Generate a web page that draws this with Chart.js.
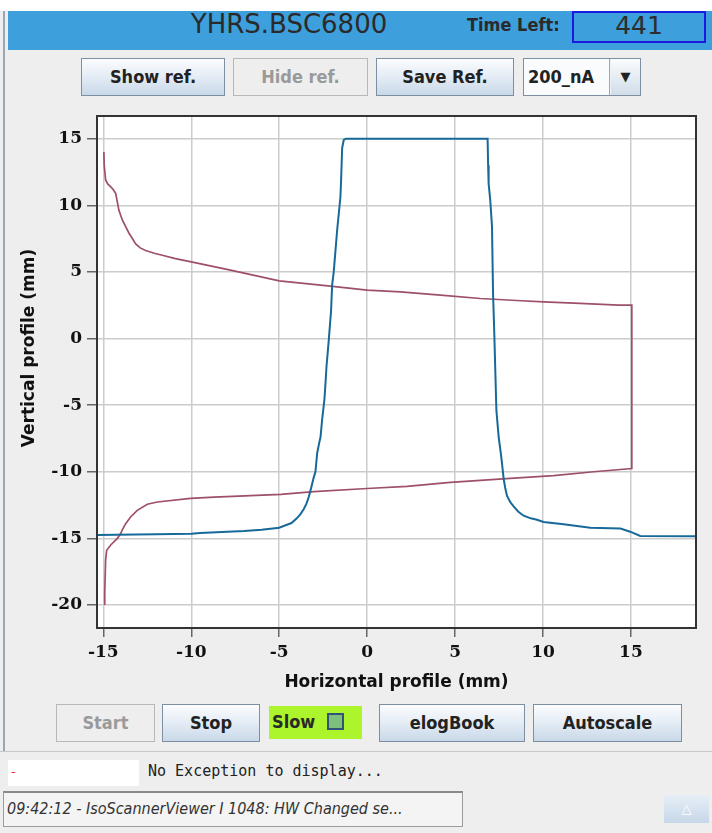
<!DOCTYPE html>
<html><head><meta charset="utf-8">
<script src="https://cdn.jsdelivr.net/npm/chart.js@4.4.1/dist/chart.umd.min.js"></script>
<style>
html,body{margin:0;padding:0;}
body{width:712px;height:833px;background:#eeeeee;position:relative;overflow:hidden;font-family:"DejaVu Sans",sans-serif;}
.abs{position:absolute;box-sizing:border-box;}
.topwhite{left:0;top:0;width:712px;height:11px;background:#fff;}
.vline{left:3px;top:11px;width:2px;height:740px;background:#9aa6b2;}
.bar{left:8px;top:11px;width:704px;height:39px;background:#3d9fdb;}
.title{left:8px;top:9px;width:562px;height:30px;text-align:center;font-size:26px;color:#2a2a2a;line-height:30px;}
.tl{left:467px;top:14px;font-family:"DejaVu Sans Condensed","DejaVu Sans",sans-serif;font-weight:bold;font-size:18px;color:#2a2a2a;}
.tbox{left:572px;top:11px;width:134px;height:32px;border:2px solid #1a1ae0;text-align:center;font-size:25px;line-height:26px;color:#2d2d2d;}
.btn{height:38px;border:1px solid #7d8fa3;background:linear-gradient(#fbfcfe,#e4ecf5 50%,#c9d8e8);text-align:center;font-family:"DejaVu Sans Condensed","DejaVu Sans",sans-serif;font-weight:bold;font-size:18px;line-height:36px;color:#222;}
.dis{border:1px solid #b8b8b8;background:#eeeeee;color:#9a9a9a;}
.combo{left:523px;top:58px;width:118px;height:38px;border:1px solid #7d8fa3;background:#eef2f7;}
.combotext{left:524px;top:59px;width:86px;height:36px;background:#fafbfd;border-right:1px solid #9aa8b8;font-family:"DejaVu Sans Condensed","DejaVu Sans",sans-serif;font-weight:bold;font-size:18px;line-height:36px;padding-left:4px;color:#222;}
.arrow{left:611px;top:59px;width:29px;height:36px;background:linear-gradient(#fbfcfe,#d0dde9);text-align:center;font-size:13px;line-height:36px;color:#222;}
.slow{left:269px;top:706px;width:93px;height:33px;background:#acf52c;font-family:"DejaVu Sans Condensed","DejaVu Sans",sans-serif;font-weight:bold;font-size:18px;line-height:32px;color:#2a2a2a;padding-left:3px;}
.chk{left:327px;top:713px;width:17px;height:17px;border:2px solid #35507a;background:#7dbf7d;}
.sep{left:0;top:751px;width:712px;height:1px;background:#c8c8c8;}
.exbox{left:8px;top:760px;width:131px;height:26px;background:#fff;color:#e03030;font-size:13px;line-height:24px;padding-left:3px;}
.exmsg{left:148px;top:762px;font-family:"DejaVu Sans Mono",monospace;font-size:15px;color:#222;}
.logf{left:3px;top:791px;width:460px;height:36px;border:1px solid #9c9c9c;border-top:2px solid #8a8a8a;background:#f4f4f4;font-style:italic;font-family:"DejaVu Sans Condensed","DejaVu Sans",sans-serif;font-size:16px;line-height:32px;color:#333;padding-left:3px;white-space:nowrap;overflow:hidden;}
.upbtn{left:664px;top:795px;width:45px;height:28px;background:linear-gradient(#e6eef6,#c6d7e8);text-align:center;color:#fff;font-size:13px;line-height:28px;}
#wrap{left:0;top:100px;width:712px;height:600px;}
</style></head>
<body>
<div class="abs topwhite"></div>
<div class="abs vline"></div>
<div class="abs bar"></div>
<div class="abs title">YHRS.BSC6800</div>
<div class="abs tl">Time Left:</div>
<div class="abs tbox">441</div>

<div class="abs btn" style="left:81px;top:58px;width:144px;">Show ref.</div>
<div class="abs btn dis" style="left:233px;top:58px;width:135px;">Hide ref.</div>
<div class="abs btn" style="left:376px;top:58px;width:138px;">Save Ref.</div>
<div class="abs combo"></div>
<div class="abs combotext">200_nA</div>
<div class="abs arrow">&#9660;</div>

<div class="abs" id="wrap"><canvas id="c" width="712" height="600"></canvas></div>

<div class="abs btn dis" style="left:56px;top:704px;width:99px;">Start</div>
<div class="abs btn" style="left:162px;top:704px;width:98px;">Stop</div>
<div class="abs slow">Slow</div>
<div class="abs chk"></div>
<div class="abs btn" style="left:379px;top:704px;width:146px;">elogBook</div>
<div class="abs btn" style="left:533px;top:704px;width:149px;">Autoscale</div>
<div class="abs sep"></div>
<div class="abs exbox">-</div>
<div class="abs exmsg">No Exception to display...</div>
<div class="abs logf">09:42:12 - IsoScannerViewer I 1048: HW Changed se...</div>
<div class="abs upbtn">&#9651;</div>

<script>
// Horizontal profile (blue)
const hX = [-15.36, -12, -10, -9.5, -7, -6, -5, -4.6, -4.3, -4.0, -3.8, -3.6, -3.45, -3.32, -3.18, -3.05, -2.94, -2.84, -2.72, -2.65, -2.56, -2.43, -2.36, -2.31, -2.18, -2.05, -1.99, -1.9, -1.8, -1.7, -1.61, -1.52, -1.48, -1.42, -1.33, -1.2, 6.85, 6.88, 6.91, 7.0, 7.1, 7.16, 7.23, 7.3, 7.35, 7.48, 7.6, 7.67, 7.76, 7.85, 7.95, 8.15, 8.33, 8.6, 8.9, 9.3, 9.66, 10.03, 11.17, 12.69, 14.4, 14.96, 15.53, 18.7];
const hY = [-14.75, -14.7, -14.65, -14.6, -14.45, -14.35, -14.2, -14.0, -13.85, -13.5, -13.2, -12.8, -12.4, -11.9, -11.2, -10.5, -10.0, -8.6, -7.8, -7.4, -6.1, -4.6, -3.2, -2.1, -0.1, 2.1, 4.0, 5.0, 6.6, 8.2, 9.4, 10.6, 11.9, 14.3, 14.9, 15.0, 15.0, 13.0, 11.6, 10.4, 8.4, 3.4, 0.4, -3.0, -5.4, -7.4, -8.6, -9.4, -10.5, -11.2, -11.8, -12.3, -12.6, -13.0, -13.3, -13.5, -13.6, -13.77, -13.94, -14.2, -14.26, -14.5, -14.82, -14.84];
// Vertical profile (red)
const vX = [-14.97, -14.95, -14.87, -14.75, -14.59, -14.45, -14.3, -14.11, -13.92, -13.73, -13.54, -13.35, -13.16, -12.9, -12.6, -12.1, -11.65, -10.9, -10, -7.77, -5, -2.09, 0, 1.89, 4.17, 6.44, 8.5, 10.03, 12.1, 14.3, 15.05, 15.05, 12.88, 10.6, 8.14, 4.73, 2.27, 0, -3.03, -4.9, -8.7, -10.04, -11.93, -12.5, -13.07, -13.45, -13.73, -13.9, -14.0, -14.2, -14.58, -14.81, -14.87, -14.92, -14.92];
const vY = [14.0, 13.0, 11.9, 11.6, 11.4, 11.2, 10.9, 9.6, 8.9, 8.4, 7.9, 7.5, 7.1, 6.8, 6.6, 6.4, 6.25, 6.0, 5.75, 5.13, 4.33, 3.93, 3.63, 3.5, 3.25, 3.0, 2.85, 2.75, 2.63, 2.5, 2.5, -9.76, -10.0, -10.3, -10.5, -10.8, -11.1, -11.26, -11.5, -11.7, -11.9, -12.0, -12.27, -12.44, -12.9, -13.4, -13.9, -14.3, -14.6, -15.0, -15.5, -15.9, -16.6, -19.1, -20.0];
// Axis ranges and tick step
const xRange = [-15.36, 18.7];
const yRange = [-21.73, 16.7];
const tickStep = 5;
const xTitle = "Horizontal profile (mm)";
const yTitle = "Vertical profile (mm)";

const toPts = (xs, ys) => xs.map((x, i) => ({x: x, y: ys[i]}));

const titleFont = {family: '"DejaVu Sans", sans-serif', weight: 'bold', size: 17};
const tickFont = {family: '"DejaVu Serif", serif', weight: 'bold', size: 17};

const frame = {
  id: 'frame',
  beforeDraw(chart) {
    const a = chart.chartArea, ctx = chart.ctx;
    ctx.save(); ctx.fillStyle = '#ffffff';
    ctx.fillRect(a.left, a.top, a.right - a.left, a.bottom - a.top);
    ctx.restore();
  },
  afterDraw(chart) {
    const a = chart.chartArea, ctx = chart.ctx;
    ctx.save(); ctx.strokeStyle = '#333333'; ctx.lineWidth = 2;
    ctx.strokeRect(a.left, a.top, a.right - a.left, a.bottom - a.top);
    // vertical axis title, placed as in the reference (slightly above the plot centre)
    ctx.translate(30, 248);
    ctx.rotate(-Math.PI / 2);
    ctx.fillStyle = '#111';
    ctx.font = 'bold 17px "DejaVu Sans", sans-serif';
    ctx.textAlign = 'center';
    ctx.textBaseline = 'middle';
    ctx.fillText(yTitle, 0, 0);
    ctx.restore();
  }
};

new Chart(document.getElementById('c'), {
  type: 'scatter',
  data: {
    datasets: [
      {label: 'H', data: toPts(hX, hY), showLine: true, borderColor: '#17699a', backgroundColor: '#17699a', borderWidth: 2, pointRadius: 0, tension: 0},
      {label: 'V', data: toPts(vX, vY), showLine: true, borderColor: '#9e5068', backgroundColor: '#9e5068', borderWidth: 1.7, pointRadius: 0, tension: 0}
    ]
  },
  options: {
    responsive: false,
    animation: false,
    layout: {padding: {top: 16, right: 16, left: 0, bottom: 0}},
    plugins: {legend: {display: false}, tooltip: {enabled: false}},
    scales: {
      x: {
        type: 'linear', min: xRange[0], max: xRange[1],
        afterFit(s) { s.height = 72; },
        ticks: {stepSize: tickStep, includeBounds: false, font: tickFont, color: '#111', padding: 5, maxRotation: 0},
        grid: {color: '#cccccc', lineWidth: 1.5, tickColor: '#666', tickLength: 9},
        border: {display: false},
        title: {display: true, text: xTitle, font: titleFont, color: '#111', padding: {top: 0, bottom: 7}}
      },
      y: {
        type: 'linear', min: yRange[0], max: yRange[1],
        afterFit(s) { s.width = 97; },
        ticks: {stepSize: tickStep, includeBounds: false, font: tickFont, color: '#111', padding: 5},
        grid: {color: '#cccccc', lineWidth: 1.5, tickColor: '#666', tickLength: 10},
        border: {display: false},
        title: {display: false}
      }
    }
  },
  plugins: [frame]
});
</script>
</body></html>
